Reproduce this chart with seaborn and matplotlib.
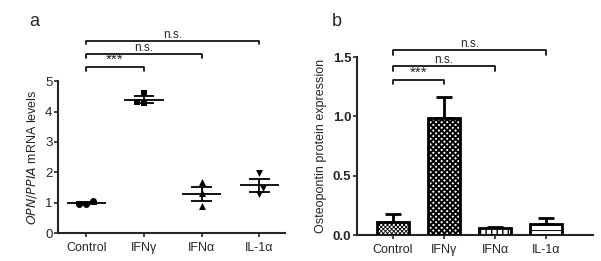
import numpy as np
import pandas as pd
import matplotlib
matplotlib.use("Agg")
import matplotlib.pyplot as plt
import seaborn as sns

# Data
groups = ["Control", "IFNγ", "IFNα", "IL-1α"]
mrna_control = [1.05, 0.97, 0.97]
mrna_ifng = [4.60, 4.28, 4.30]
mrna_ifna = [1.69, 1.31, 0.90]
mrna_il1a = [1.98, 1.47, 1.27]
protein_mean = [0.11, 0.99, 0.06, 0.09]
protein_err = [0.07, 0.17, 0.01, 0.05]

sns.set_style("ticks")
plt.rcParams["font.family"] = ["Liberation Sans", "DejaVu Sans"]
plt.rcParams["hatch.linewidth"] = 1.4

fig = plt.figure(figsize=(6.01, 2.61), dpi=100)


def bracket(ax, x1, x2, y, h, text):
    ax.plot([x1, x1, x2, x2], [y - h, y, y, y - h], color="black", lw=1.2,
            clip_on=False)
    size = 11 if text == "***" else 8.5
    ax.text((x1 + x2) / 2, y, text, ha="center", va="bottom", fontsize=size)


# -------------------------------
# a: mRNA scatter dot plot
# -------------------------------
ax1 = fig.add_axes([0.0965, 0.107, 0.378, 0.582])
mrna = [mrna_control, mrna_ifng, mrna_ifna, mrna_il1a]
markers = ["o", "s", "^", "v"]
for g, vals, m in zip(groups, mrna, markers):
    df = pd.DataFrame({"group": g, "value": vals})
    sns.swarmplot(data=df, x="group", y="value", order=groups, marker=m,
                  color="black", size=5, ax=ax1)
for i, vals in enumerate(mrna):
    v = np.array(vals)
    mean = v.mean()
    sem = v.std(ddof=1) / np.sqrt(len(v))
    ax1.hlines(mean, i - 0.34, i + 0.34, color="black", lw=1.3, zorder=5)
    ax1.hlines([mean - sem, mean + sem], i - 0.18, i + 0.18, color="black",
               lw=1.3, zorder=5)
    ax1.vlines(i, mean - sem, mean + sem, color="black", lw=1.3, zorder=5)

ax1.set_xlim(-0.49, 3.45)
ax1.set_ylim(0, 5)
ax1.set_yticks([0, 1, 2, 3, 4, 5])
ax1.set_xlabel("")
ax1.set_ylabel(r"$\it{OPN/PPIA}$ mRNA levels", fontsize=9)
ax1.tick_params(axis="x", labelsize=9, length=3, width=1.2)
ax1.tick_params(axis="y", labelsize=9.5, length=3, width=1.2, pad=1)
sns.despine(ax=ax1)
for s in ["left", "bottom"]:
    ax1.spines[s].set_linewidth(1.5)

bracket(ax1, 0, 1, 5.46, 0.12, "***")
bracket(ax1, 0, 2, 5.89, 0.12, "n.s.")
bracket(ax1, 0, 3, 6.33, 0.12, "n.s.")
fig.text(0.048, 0.9, "a", fontsize=13)

# -------------------------------
# b: protein bar chart
# -------------------------------
ax2 = fig.add_axes([0.594, 0.0996, 0.393, 0.682])
pdf = pd.DataFrame({"group": groups, "value": protein_mean})
sns.barplot(data=pdf, x="group", y="value", order=groups, color="white",
            edgecolor="black", linewidth=2, width=0.63, ax=ax2, zorder=3)
hatches = ["xxxxxxxx", "xxxxxx", "|||", "---"]
hatch_lw = [0.6, 1.4, 1.0, 0.7]
for bar, h, lw in zip(ax2.patches, hatches, hatch_lw):
    bar.set_hatch(h)
    if hasattr(bar, "set_hatch_linewidth"):
        bar.set_hatch_linewidth(lw)
ax2.errorbar(range(len(groups)), protein_mean,
             yerr=[np.zeros(len(groups)), protein_err], fmt="none",
             ecolor="black", elinewidth=2, capsize=6, capthick=2, zorder=2)

ax2.set_xlim(-0.7, 3.92)
ax2.set_ylim(0, 1.5)
ax2.set_yticks([0, 0.5, 1.0, 1.5])
ax2.set_yticklabels(["0.0", "0.5", "1.0", "1.5"], fontweight="bold")
ax2.set_xlabel("")
ax2.set_ylabel("Osteopontin protein expression", fontsize=9)
ax2.tick_params(axis="x", labelsize=9, length=3, width=1.2)
ax2.tick_params(axis="y", labelsize=9.5, length=3, width=1.2, pad=1)
sns.despine(ax=ax2)
for s in ["left", "bottom"]:
    ax2.spines[s].set_linewidth(1.5)

bracket(ax2, 0, 1, 1.31, 0.04, "***")
bracket(ax2, 0, 2, 1.42, 0.04, "n.s.")
bracket(ax2, 0, 3, 1.56, 0.04, "n.s.")
fig.text(0.552, 0.9, "b", fontsize=13)

fig.savefig("out.png", dpi=100)
